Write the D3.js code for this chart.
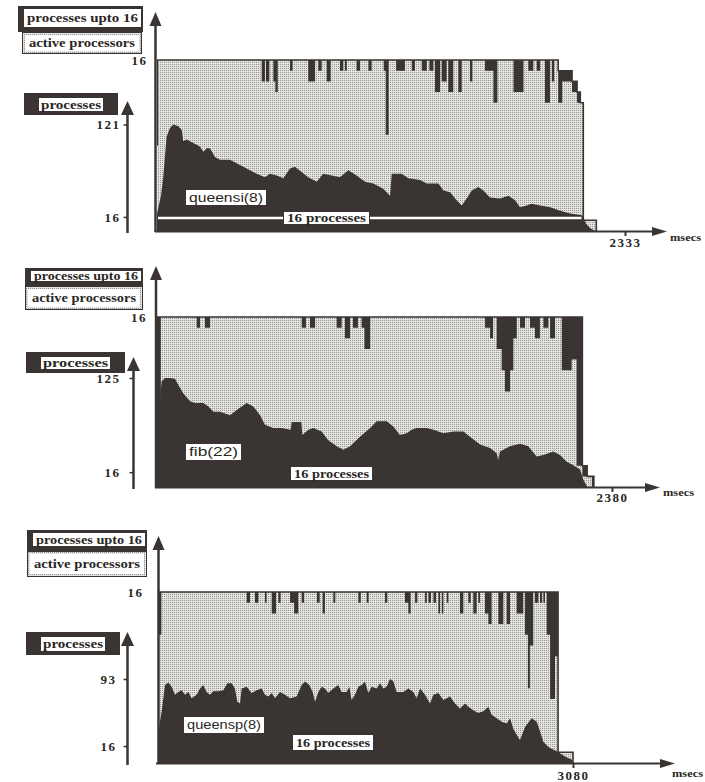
<!DOCTYPE html>
<html><head><meta charset="utf-8">
<script src="https://cdn.jsdelivr.net/npm/d3@7"></script>
<style>
html,body{margin:0;padding:0;background:#fff;}
svg{display:block;}
</style></head>
<body>
<svg id="chart" width="705" height="782"></svg>
<script>
// ---------------- DATA ----------------
const programs = ["queensi(8)", "fib(22)", "queensp(8)"];
const endTimes = [2333, 2380, 3080];          // msecs, x-axis end tick
const maxProcesses = [121, 125, 93];          // processes axis top tick
const processorTicks = [16];
const legendLabels = ["processes upto 16", "active processors", "processes"];
const sixteenLabel = "16 processes";
const unitLabel = "msecs";

// processes over time [msec, processes]
const queensiProcesses = [[0,20],[20,40],[31,61],[48,107],[65,117],[81,121],[106,119],[123,115],[131,102],[148,104],[181,100],[214,96],[231,90],[248,94],[264,94],[289,84],[314,81],[364,81],[397,77],[447,71],[497,65],[538,61],[563,65],[597,63],[630,60],[663,71],[688,73],[721,67],[754,61],[796,56],[829,65],[871,63],[912,61],[954,69],[995,63],[1037,56],[1078,54],[1128,48],[1162,40],[1170,65],[1220,65],[1253,60],[1311,58],[1345,54],[1403,54],[1428,46],[1461,44],[1494,35],[1519,29],[1544,37],[1569,46],[1602,50],[1627,46],[1660,38],[1710,37],[1752,40],[1785,35],[1810,27],[1843,29],[1868,31],[1910,29],[1960,27],[2010,23],[2060,20],[2118,18],[2126,15],[2140,8],[2160,3],[2185,0]];
const fibProcesses = [[0,59],[24,121],[42,125],[68,125],[94,124],[112,117],[138,107],[173,98],[199,96],[243,96],[269,92],[295,86],[330,86],[382,82],[417,88],[469,96],[504,92],[539,82],[565,71],[608,67],[652,67],[700,65],[704,74],[755,74],[760,59],[792,65],[818,67],[861,63],[896,53],[940,46],[975,42],[1010,46],[1062,57],[1115,67],[1149,75],[1201,75],[1236,69],[1271,59],[1306,61],[1332,65],[1358,67],[1410,67],[1446,65],[1498,61],[1550,63],[1603,63],[1637,57],[1690,48],[1742,44],[1777,38],[1785,30],[1794,40],[1846,46],[1899,49],[1942,46],[1986,34],[2021,36],[2073,40],[2108,36],[2143,28],[2178,24],[2213,19],[2231,7],[2248,0]];
const queenspProcesses = [[0,29],[27,56],[52,86],[77,89],[101,84],[126,75],[151,78],[176,80],[200,75],[225,78],[250,71],[287,75],[312,82],[336,86],[361,78],[386,75],[411,79],[448,79],[485,80],[515,88],[547,88],[571,82],[589,67],[609,65],[621,82],[658,84],[695,77],[732,80],[769,82],[794,75],[819,73],[844,77],[868,71],[905,78],[943,75],[980,71],[1029,73],[1066,86],[1091,90],[1123,86],[1148,78],[1165,67],[1190,78],[1215,84],[1239,82],[1264,77],[1301,82],[1338,86],[1363,78],[1400,78],[1420,84],[1437,69],[1462,75],[1487,84],[1512,86],[1536,90],[1561,77],[1586,84],[1623,82],[1648,88],[1672,82],[1697,84],[1722,93],[1747,90],[1771,78],[1821,78],[1858,82],[1895,78],[1920,71],[1945,82],[1982,75],[2019,65],[2044,75],[2081,77],[2118,69],[2167,73],[2204,65],[2241,59],[2279,65],[2303,61],[2340,57],[2377,54],[2415,56],[2452,61],[2476,52],[2514,48],[2551,44],[2588,42],[2613,48],[2637,36],[2662,29],[2687,23],[2724,38],[2773,48],[2811,44],[2835,33],[2860,21],[2897,15],[2959,10],[3021,4],[3075,0]];

// periods where active processors < 16 : [from, to, active]
const queensiActiveDips = [[0,6,8],[522,538,14],[543,560,14],[580,590,14],[590,602,13],[663,676,15],[754,788,14],[804,821,15],[846,866,14],[912,929,15],[937,946,15],[995,1012,15],[1054,1070,15],[1130,1140,15],[1140,1155,9],[1192,1236,15],[1270,1286,15],[1320,1345,15],[1358,1378,15],[1386,1411,13],[1419,1444,14],[1452,1477,13],[1502,1519,13],[1560,1572,14],[1635,1677,15],[1677,1697,12],[1777,1827,13],[1851,1876,15],[1893,1910,15],[1934,1959,12],[1968,1980,14],[2000,2020,12],[2020,2069,14],[2069,2094,13],[2094,2125,12],[2125,2190,1]];
const fibActiveDips = [[0,20,0],[208,225,15],[251,277,15],[757,779,15],[800,827,15],[940,966,15],[983,1010,14],[1025,1051,15],[1070,1085,15],[1085,1115,13],[1716,1742,15],[1742,1758,14],[1777,1803,13],[1803,1820,11],[1820,1847,9],[1847,1864,11],[1864,1882,14],[1899,1925,15],[1951,1977,15],[1977,2003,14],[2021,2047,15],[2056,2082,14],[2117,2169,11],[2169,2195,12],[2195,2225,2],[2225,2275,1]];
const queenspActiveDips = [[0,25,12],[658,683,15],[720,745,15],[794,806,15],[844,876,14],[893,910,15],[980,1010,15],[1010,1041,14],[1066,1084,15],[1180,1200,15],[1222,1239,14],[1301,1316,15],[1487,1505,15],[1549,1563,15],[1685,1702,15],[1833,1858,15],[1858,1875,14],[1908,1925,15],[1982,1995,15],[2007,2026,15],[2044,2063,15],[2081,2093,14],[2106,2118,14],[2143,2155,15],[2241,2266,14],[2303,2321,15],[2340,2365,14],[2377,2390,15],[2427,2452,14],[2452,2476,13],[2526,2563,13],[2588,2613,13],[2662,2711,14],[2724,2745,12],[2745,2760,7],[2760,2785,11],[2798,2823,15],[2835,2850,15],[2860,2872,15],[2885,2910,12],[2910,2947,6],[2947,2969,10],[2969,3080,1]];

// periods where "processes upto 16" < 16 : [from, to, value]
const queensiUptoDips = [[2000,2069,15],[2069,2094,14],[2094,2110,13],[2110,2125,12],[2125,2190,1]];
const fibUptoDips = [[2225,2250,2],[2250,2285,1]];
const queenspUptoDips = [[2969,3080,1]];

const processSeries = [queensiProcesses, fibProcesses, queenspProcesses];
const activeSeries = [queensiActiveDips, fibActiveDips, queenspActiveDips];
const uptoSeries = [queensiUptoDips, fibUptoDips, queenspUptoDips];

// ---------------- LAYOUT (positions only) ----------------
const layout = [
  {x0:157, x1:625, base:231, top:60, pBase:231, pMax:124.5, axX:155.5, axTip:12, pAxX:127.5, pAxTip:101,
   xTip:667, white16:true, topPad:8, pPad:3, xPad:2, msecsX:670, msecsDy:10,
   upto:[18,6,125,26], active:[22,32,120,22], proc:[24,93,94,22], name:[185,189,82,17], p16:[283,211,87,14]},
  {x0:157, x1:612, base:487, top:317, pBase:486, pMax:378, axX:156, axTip:266, pAxX:133.5, pAxTip:357,
   xTip:660, white16:false, topPad:9, pPad:9, xPad:1, msecsX:663, msecsDy:9,
   upto:[25,268,118,18], active:[25,286,118,24], proc:[26,352,99,21], name:[185,443,57,18], p16:[290,466,83,15]},
  {x0:158, x1:573, base:763, top:592, pBase:760, pMax:679, axX:158.5, axTip:536, pAxX:127.5, pAxTip:632,
   xTip:675, white16:false, topPad:15, pPad:7, xPad:3, msecsX:672, msecsDy:14,
   upto:[27,530,120,21], active:[27,551,120,26], proc:[26,632,94,23], name:[183,716,82,18], p16:[292,734,82,17]}
];

const DARK = "#3a3532";
const INK = "#2a2725";
const SERIF = "'Liberation Serif','Times New Roman',serif";
const SANS = "'Liberation Sans',Arial,sans-serif";

const svg = d3.select("#chart");
const defs = svg.append("defs");
const pat = defs.append("pattern").attr("id","dots").attr("width",2).attr("height",2).attr("patternUnits","userSpaceOnUse");
pat.append("rect").attr("width",2).attr("height",2).attr("fill","#e3e3df");
pat.append("rect").attr("width",1).attr("height",1).attr("fill","#949490");

function stepPoints(periods) {
  const pts = [[0, 16]];
  periods.forEach(([a, b, v], k) => {
    const next = periods[k + 1];
    pts.push([a, v]);
    if (!next) pts.push([b, 0]);
    else if (next[0] > b) pts.push([b, 16]);
  });
  return pts;
}

function boxText(g, r, txt, opts) {
  g.append("rect").attr("x", r[0]+0.5).attr("y", r[1]+0.5).attr("width", r[2]-1).attr("height", r[3]-1)
    .attr("fill", "#fff").attr("stroke", DARK).attr("stroke-width", 1);
  g.append("text").attr("x", r[0] + r[2]/2).attr("y", r[1] + r[3]/2 + opts.size*0.35)
    .attr("text-anchor", "middle").attr("font-family", opts.family).attr("font-weight", opts.weight || "normal")
    .attr("font-size", opts.size).attr("fill", INK)
    .attr("textLength", opts.len).attr("lengthAdjust", "spacingAndGlyphs").text(txt);
}

layout.forEach((L, i) => {
  const g = svg.append("g");
  const x = d3.scaleLinear().domain([0, endTimes[i]]).range([L.x0, L.x1]);
  const yProc = d3.scaleLinear().domain([0, 16]).range([L.base, L.top]);
  const yPs = d3.scaleLinear().domain([0, maxProcesses[i]]).range([L.pBase, L.pMax]);

  const upto = stepPoints(uptoSeries[i]);
  const active = stepPoints(activeSeries[i]);

  const stepArea = d3.area().x(d => x(d[0])).y0(yProc(0)).y1(d => yProc(d[1])).curve(d3.curveStepAfter);
  const stepLine = d3.line().x(d => x(d[0])).y(d => yProc(d[1])).curve(d3.curveStepAfter);

  g.append("path").attr("d", stepArea(upto)).attr("fill", DARK);
  g.append("path").attr("d", stepArea(active)).attr("fill", "url(#dots)");

  const pArea = d3.area().x(d => x(d[0])).y0(yProc(0)).y1(d => yPs(d[1])).curve(d3.curveLinear);
  g.append("path").attr("d", pArea(processSeries[i])).attr("fill", DARK);

  g.append("path").attr("d", stepLine(upto)).attr("fill", "none").attr("stroke", DARK).attr("stroke-width", 1.6);

  // white line at 16 processes
  if (L.white16) {
    const below = processSeries[i].find(d => d[0] > 500 && d[1] < 16);
    g.append("line").attr("x1", x(0) + 1).attr("x2", x(below[0]) - 2)
      .attr("y1", yPs(16) + 1).attr("y2", yPs(16) + 1)
      .attr("stroke", "#fff").attr("stroke-width", 2.5);
  }

  // labels inside plot
  boxText(g, L.name, programs[i], {family: SANS, size: 12, len: L.name[2] - 8});
  boxText(g, L.p16, sixteenLabel, {family: SERIF, weight: "bold", size: 12.5, len: L.p16[2] - 8});

  // x axis
  g.append("line").attr("x1", L.x0 - 2).attr("x2", L.xTip - 10).attr("y1", L.base + 0.5).attr("y2", L.base + 0.5)
    .attr("stroke", DARK).attr("stroke-width", 2);
  g.append("path").attr("d", `M${L.xTip},${L.base+0.5} L${L.xTip-15},${L.base-4} L${L.xTip-15},${L.base+5} Z`).attr("fill", DARK);
  const xAxis = g.append("g").attr("transform", `translate(0,${L.base})`)
    .call(d3.axisBottom(x).tickValues([endTimes[i]]).tickSize(5).tickPadding(L.xPad).tickFormat(d3.format("d")));
  xAxis.select(".domain").remove();
  xAxis.selectAll("line").attr("stroke", DARK).attr("stroke-width", 2);
  xAxis.selectAll("text").attr("font-family", SERIF).attr("font-weight", "bold").attr("font-size", 13)
    .attr("letter-spacing", 1.5).attr("fill", INK);
  g.append("text").attr("x", L.msecsX).attr("y", L.base + L.msecsDy).attr("font-family", SERIF)
    .attr("font-weight", "bold").attr("font-size", 11).attr("fill", INK)
    .attr("textLength", 31).attr("lengthAdjust", "spacingAndGlyphs").text(unitLabel);

  // processor axis (main)
  g.append("line").attr("x1", L.axX).attr("x2", L.axX).attr("y1", L.base + 1).attr("y2", L.axTip + 10)
    .attr("stroke", DARK).attr("stroke-width", 2.5);
  g.append("path").attr("d", `M${L.axX},${L.axTip} L${L.axX-6},${L.axTip+14} L${L.axX+6},${L.axTip+14} Z`).attr("fill", DARK);
  const yAxis = g.append("g").attr("transform", `translate(${L.axX},0)`)
    .call(d3.axisLeft(yProc).tickValues(processorTicks).tickSize(0).tickPadding(L.topPad));
  yAxis.select(".domain").remove();
  yAxis.selectAll("text").attr("font-family", SERIF).attr("font-weight", "bold").attr("font-size", 13)
    .attr("letter-spacing", 1.5).attr("fill", INK);

  // processes axis
  g.append("line").attr("x1", L.pAxX).attr("x2", L.pAxX).attr("y1", L.base + 2).attr("y2", L.pAxTip + 10)
    .attr("stroke", DARK).attr("stroke-width", 2.5);
  g.append("path").attr("d", `M${L.pAxX},${L.pAxTip} L${L.pAxX-6.5},${L.pAxTip+14} L${L.pAxX+6.5},${L.pAxTip+14} Z`).attr("fill", DARK);
  const pAxis = g.append("g").attr("transform", `translate(${L.pAxX},0)`)
    .call(d3.axisLeft(yPs).tickValues([16, maxProcesses[i]]).tickSize(4).tickPadding(L.pPad));
  pAxis.select(".domain").remove();
  pAxis.selectAll("line").attr("stroke", DARK).attr("stroke-width", 1.5);
  pAxis.selectAll("text").attr("font-family", SERIF).attr("font-weight", "bold").attr("font-size", 13)
    .attr("letter-spacing", 1.5).attr("fill", INK);

  // legend: processes upto 16
  const u = L.upto;
  g.append("rect").attr("x", u[0]).attr("y", u[1]).attr("width", u[2]).attr("height", u[3]).attr("fill", DARK);
  g.append("rect").attr("x", u[0] + 6).attr("y", u[1] + 3).attr("width", u[2] - 8).attr("height", u[3] - 8).attr("fill", "#fff");
  g.append("text").attr("x", u[0] + 6 + (u[2] - 8)/2).attr("y", u[1] + 3 + (u[3] - 8)/2 + 4.2)
    .attr("text-anchor", "middle").attr("font-family", SERIF).attr("font-weight", "bold").attr("font-size", 12.5)
    .attr("fill", INK).attr("textLength", u[2] - 14).attr("lengthAdjust", "spacingAndGlyphs").text(legendLabels[0]);

  // legend: active processors
  const a = L.active;
  g.append("rect").attr("x", a[0] + 0.5).attr("y", a[1] + 0.5).attr("width", a[2] - 1).attr("height", a[3] - 1)
    .attr("fill", "url(#dots)").attr("stroke", DARK).attr("stroke-width", 1);
  g.append("rect").attr("x", a[0] + 3).attr("y", a[1] + 3).attr("width", a[2] - 6).attr("height", a[3] - 6).attr("fill", "#fff");
  g.append("text").attr("x", a[0] + a[2]/2).attr("y", a[1] + a[3]/2 + 4.2)
    .attr("text-anchor", "middle").attr("font-family", SERIF).attr("font-weight", "bold").attr("font-size", 12.5)
    .attr("fill", INK).attr("textLength", a[2] - 14).attr("lengthAdjust", "spacingAndGlyphs").text(legendLabels[1]);

  // legend: processes
  const p = L.proc;
  g.append("rect").attr("x", p[0]).attr("y", p[1]).attr("width", p[2]).attr("height", p[3]).attr("fill", DARK);
  g.append("rect").attr("x", p[0] + 15).attr("y", p[1] + 5).attr("width", p[2] - 30).attr("height", p[3] - 9).attr("fill", "#fff");
  g.append("text").attr("x", p[0] + p[2]/2).attr("y", p[1] + 5 + (p[3] - 9)/2 + 4.2)
    .attr("text-anchor", "middle").attr("font-family", SERIF).attr("font-weight", "bold").attr("font-size", 12.5)
    .attr("fill", INK).attr("textLength", p[2] - 34).attr("lengthAdjust", "spacingAndGlyphs").text(legendLabels[2]);
});
</script>
</body></html>
